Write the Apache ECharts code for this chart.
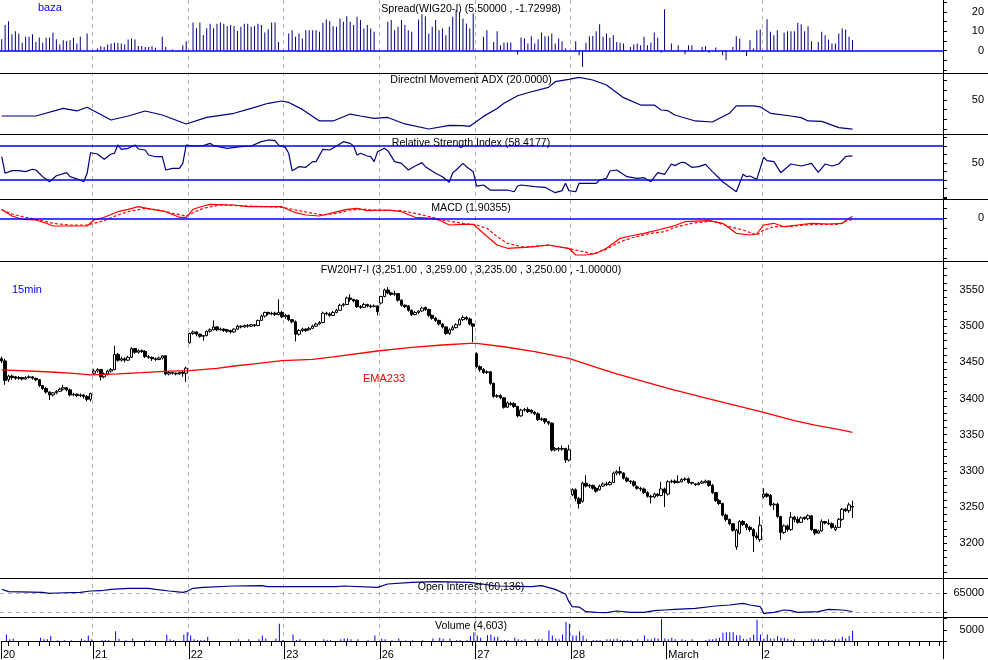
<!doctype html>
<html>
<head>
<meta charset="utf-8">
<title>FW20H7-I 15min</title>
<style>
html, body { margin: 0; padding: 0; background: #fff; }
#main { width: 988px; height: 660px; }
</style>
</head>
<body>
<div id="main"></div>
<script src="https://cdn.jsdelivr.net/npm/echarts@6/dist/echarts.min.js"></script>
<script>
// trading days shown on the x axis and 15 min bars per day
var dayLabels = ['20', '21', '22', '23', '26', '27', '28', 'March', '2'];
var barsPerDay = [27, 28, 28, 28, 28, 28, 28, 28, 27];
var emptySlots = 26;

// FW20H7-I candles: [open, close, low, high]
var ohlc = [
    // 20
    [3455,3452,3449,3458],[3452,3425,3419,3455],[3426,3431,3423,3433],[3431,3429,3426,3433],[3430,3428,3426,3431],[3428,3429,3426,3431],[3429,3427,3425,3430],[3427,3429,3426,3431],[3429,3430,3428,3432],[3430,3428,3426,3431],[3428,3426,3424,3429],[3426,3418,3416,3427],[3418,3414,3412,3419],[3414,3409,3407,3416],[3409,3405,3398,3410],[3405,3408,3403,3409],[3408,3410,3406,3412],[3410,3413,3409,3415],[3413,3415,3411,3419],[3415,3412,3410,3416],[3412,3405,3403,3414],[3405,3406,3403,3408],[3406,3404,3402,3407],[3404,3405,3402,3407],[3405,3403,3400,3406],[3403,3399,3396,3405],[3399,3407,3396,3408],
    // 21
    [3435,3438,3433,3441],[3438,3440,3436,3442],[3440,3430,3425,3441],[3430,3434,3428,3436],[3434,3438,3432,3440],[3438,3440,3436,3442],[3440,3461,3439,3473],[3461,3453,3451,3463],[3453,3455,3451,3458],[3455,3453,3450,3457],[3453,3457,3452,3459],[3457,3469,3456,3471],[3469,3464,3462,3470],[3464,3466,3462,3468],[3466,3465,3463,3468],[3465,3458,3456,3467],[3458,3457,3455,3460],[3457,3455,3452,3458],[3455,3454,3452,3457],[3454,3456,3453,3458],[3456,3459,3454,3460],[3459,3434,3432,3460],[3434,3436,3432,3438],[3436,3435,3433,3437],[3435,3434,3432,3436],[3434,3436,3433,3437],[3436,3435,3430,3438],[3435,3442,3423,3444],
    // 22
    [3477,3490,3476,3491],[3490,3492,3488,3494],[3492,3489,3486,3493],[3489,3486,3484,3490],[3486,3487,3480,3488],[3487,3493,3486,3494],[3493,3495,3491,3497],[3495,3499,3494,3508],[3499,3495,3493,3500],[3495,3496,3494,3498],[3496,3494,3492,3497],[3495,3493,3491,3496],[3494,3492,3490,3495],[3492,3496,3491,3497],[3496,3500,3495,3502],[3500,3499,3497,3501],[3499,3501,3498,3502],[3501,3500,3498,3503],[3500,3502,3499,3503],[3502,3501,3499,3503],[3501,3508,3500,3509],[3508,3514,3507,3516],[3514,3519,3512,3520],[3519,3517,3515,3520],[3517,3518,3515,3520],[3518,3516,3514,3520],[3516,3519,3515,3537],[3519,3513,3511,3521],
    // 23
    [3513,3515,3510,3517],[3515,3509,3507,3516],[3509,3506,3504,3510],[3506,3489,3479,3508],[3489,3494,3487,3496],[3494,3496,3492,3498],[3496,3494,3492,3497],[3495,3497,3494,3499],[3497,3500,3496,3502],[3500,3503,3499,3505],[3503,3505,3502,3507],[3505,3518,3504,3520],[3518,3517,3515,3520],[3517,3515,3513,3519],[3515,3519,3514,3521],[3519,3522,3518,3524],[3522,3529,3521,3531],[3529,3530,3527,3532],[3530,3539,3529,3541],[3539,3537,3534,3544],[3537,3535,3533,3538],[3536,3527,3525,3537],[3527,3526,3524,3529],[3526,3530,3525,3532],[3530,3528,3526,3531],[3528,3527,3525,3530],[3527,3528,3526,3530],[3528,3520,3515,3529],
    // 26
    [3532,3541,3530,3542],[3541,3550,3540,3552],[3550,3546,3544,3554],[3546,3544,3542,3547],[3544,3545,3542,3549],[3545,3536,3534,3546],[3536,3529,3527,3537],[3529,3527,3525,3530],[3528,3522,3520,3529],[3522,3516,3514,3523],[3516,3519,3515,3521],[3519,3521,3517,3522],[3521,3525,3520,3527],[3526,3523,3521,3527],[3523,3515,3513,3524],[3515,3511,3509,3516],[3511,3508,3506,3513],[3508,3503,3501,3509],[3503,3499,3497,3504],[3499,3490,3488,3500],[3490,3495,3488,3497],[3495,3498,3494,3501],[3498,3502,3497,3504],[3502,3509,3501,3511],[3509,3512,3507,3515],[3512,3510,3508,3514],[3510,3503,3501,3512],[3503,3500,3478,3504],
    // 27
    [3462,3444,3442,3464],[3444,3440,3437,3446],[3440,3436,3434,3442],[3436,3437,3434,3439],[3437,3421,3419,3438],[3421,3403,3401,3422],[3403,3404,3401,3406],[3404,3401,3399,3406],[3401,3388,3386,3402],[3388,3394,3387,3396],[3392,3393,3390,3396],[3393,3389,3387,3395],[3389,3376,3374,3390],[3376,3384,3375,3386],[3384,3385,3382,3387],[3385,3382,3380,3388],[3384,3381,3379,3385],[3381,3379,3377,3383],[3379,3371,3369,3381],[3371,3372,3369,3374],[3372,3368,3365,3373],[3368,3366,3363,3369],[3366,3329,3327,3367],[3329,3331,3327,3333],[3331,3330,3327,3333],[3330,3331,3328,3335],[3331,3315,3311,3332],[3315,3329,3313,3336],
    // 28
    [3267,3274,3265,3276],[3274,3262,3258,3276],[3262,3255,3248,3264],[3258,3283,3256,3285],[3283,3279,3277,3294],[3279,3280,3276,3282],[3280,3276,3274,3281],[3276,3272,3270,3278],[3274,3279,3273,3281],[3279,3282,3278,3284],[3282,3281,3279,3285],[3281,3284,3280,3286],[3284,3297,3283,3299],[3297,3299,3294,3301],[3299,3297,3294,3306],[3297,3290,3288,3298],[3290,3286,3284,3292],[3286,3285,3282,3287],[3285,3280,3278,3287],[3278,3276,3274,3280],[3276,3275,3272,3278],[3275,3270,3268,3277],[3270,3265,3263,3272],[3265,3264,3255,3267],[3264,3268,3262,3270],[3268,3266,3264,3269],[3266,3275,3265,3285],[3275,3270,3250,3277],
    // March
    [3268,3285,3266,3287],[3285,3286,3283,3288],[3286,3284,3282,3288],[3284,3285,3283,3294],[3285,3288,3284,3290],[3288,3289,3286,3291],[3289,3284,3282,3291],[3284,3283,3281,3285],[3282,3281,3279,3283],[3281,3283,3280,3285],[3283,3285,3282,3287],[3284,3286,3283,3288],[3286,3280,3278,3287],[3280,3270,3268,3282],[3270,3259,3257,3271],[3259,3255,3253,3261],[3255,3239,3237,3256],[3239,3233,3230,3241],[3233,3227,3225,3234],[3227,3218,3216,3228],[3195,3218,3191,3220],[3214,3230,3212,3232],[3230,3226,3224,3232],[3226,3222,3218,3228],[3222,3219,3216,3224],[3219,3210,3188,3221],[3210,3208,3205,3215],[3205,3225,3202,3237],
    // 2
    [3264,3268,3262,3276],[3268,3265,3263,3270],[3266,3253,3251,3268],[3253,3254,3246,3256],[3254,3237,3235,3256],[3237,3215,3205,3238],[3215,3224,3213,3226],[3224,3219,3216,3226],[3219,3236,3217,3243],[3236,3233,3229,3238],[3233,3229,3227,3237],[3229,3235,3228,3237],[3236,3234,3232,3237],[3234,3238,3232,3240],[3238,3219,3217,3239],[3219,3214,3211,3220],[3214,3217,3213,3219],[3217,3230,3216,3233],[3230,3228,3226,3231],[3228,3227,3225,3233],[3227,3222,3220,3229],[3219,3222,3217,3225],[3222,3233,3221,3235],[3233,3247,3231,3249],[3247,3245,3243,3249],[3245,3253,3242,3256],[3251,3250,3235,3259]
];

// Spread(WIG20-I), one value per bar
var spread = [
    5.9,13.2,15.2,8.5,10,8.8,4,7.1,7.1,8.5,4.5,6.8,4,6.6,6.8,9.2,5.9,3.1,5.4,5,5.4,6.6,3.6,7.1,0,8.8,0,
    0,1,2.2,1.9,3.1,3.6,4,4,3.6,3.1,5.7,6.2,5.7,2.4,2.4,1.9,1.9,2.2,1.4,0,7.1,1.9,0,0.5,0,0,2.8,4.8,
    0,14.5,11.6,14.5,8.1,11.6,13.9,11.6,13.9,14.5,13.9,12.8,13.3,12.8,10.2,12.3,13.9,13.9,12.3,12.8,13.9,13.3,9.4,11.1,14.5,14.5,4.5,0,
    0,8.8,10.6,7.1,8.8,6.2,10.6,10.6,10.6,10.6,9.7,14.4,16.1,15.4,12.6,12.3,16.6,14.9,17.8,14.9,13.2,17.5,15.8,11.4,13.2,11.4,9.7,0,
    0,0,14.9,15.8,10.6,12.3,15.8,13.2,10.6,9.7,0,16.1,18.9,17.8,8.8,12.3,15.8,10.6,11.4,8,12.3,17.5,21,20,16.6,14,11.4,19.2,
    0,0,7.1,10.6,0,4.5,10,2.8,4.2,4.2,4.2,0,-2.1,6.8,6.2,3.6,7.4,3.6,5.9,9.4,7.4,7.4,8.8,3.6,6.2,4.8,1,0,
    0,4.8,-2.4,-8.5,4,7.4,7.6,10,13.7,7.1,8.8,6.6,8,4.5,4,3.6,0,1.9,3.2,3.6,2.8,7.1,2.8,4.2,9.4,6.6,-1,21.5,
    0,3.6,0,2.8,0,-1.9,2.8,2.8,0,0,1.9,2.2,-1.2,0,1.6,0,-2.4,-5,0,1.9,7.4,6.2,-0.7,-2.8,5.4,1,10.6,10.9,
    0,16.3,9.7,8,10.6,0,9.2,10,10,10,14.4,13.7,10,12.6,4.8,-0.4,4.5,9.7,8,5.7,3.6,3.6,8.8,11.4,10.9,7.1,5.5
];

// Volume, one value per bar
var volume = [
    0,2900,725,1160,0,0,0,0,0,0,0,1450,725,725,2175,0,290,0,290,0,290,0,0,1015,290,2465,725,
    0,0,435,435,435,0,4350,1015,0,290,0,1160,0,0,0,290,290,0,0,0,0,2900,725,435,0,0,2900,3915,
    2465,725,435,435,435,1885,0,0,0,0,0,0,0,0,725,0,0,725,0,0,725,2465,1160,0,0,1160,7685,435,
    0,0,2900,435,725,0,0,0,0,0,0,725,290,435,0,0,725,1160,1160,725,0,725,0,0,435,0,2465,0,
    1160,725,0,290,0,1160,0,290,0,290,0,0,290,0,0,1160,0,1450,1015,0,1160,0,435,435,0,435,2175,3915,
    2465,1450,0,2610,2900,1885,1885,290,435,435,0,1450,725,435,725,0,0,725,725,725,0,4640,2465,1160,725,2900,8410,7685,
    2465,2465,4350,2465,725,0,435,435,435,0,725,725,725,1015,435,435,435,435,0,725,0,2465,725,725,1450,1160,9715,1160,
    725,1450,725,0,725,435,0,725,0,0,0,435,725,725,1160,1450,3625,3915,3915,3915,2610,2610,1015,725,1450,2900,9425,2900,
    1160,2900,1160,1160,2175,1450,1450,1015,435,725,0,0,0,0,725,725,725,435,725,435,435,725,725,1885,1160,2175,4603
];

// smooth indicator lines: [bar, value]
var ema233 = [[0,3439.5],[13,3437],[20,3435],[26,3432.6],[34,3434],[41,3435.8],[49,3438],[55,3438.5],[63,3441.8],[68,3445],[74,3447.8],[82,3452.4],[91,3454.2],[97,3457.5],[110,3465.7],[120,3470.7],[129,3474],[137,3476.3],[139,3476.3],[147,3471.6],[156,3464.7],[166,3455.5],[174,3443],[180,3434],[195,3414],[205,3402],[223,3381],[232,3369.4],[238,3363.4],[246,3356.5],[249,3353.3]];

var adx = [[0,33.5],[10,33.5],[18,41.4],[22,38.7],[25,42.5],[32,29.4],[37,33.5],[42,38.7],[47,34.5],[54,25.3],[60,32.1],[68,36.3],[73,41.4],[78,46.6],[82,49],[84,47.5],[88,40.3],[93,28.4],[97,28.4],[102,35.5],[105,33.5],[109,31.1],[113,32],[118,25.3],[125,20.1],[131,23.9],[135,23.5],[137,22.9],[141,33.1],[145,41.2],[147,46.6],[151,54.4],[154,57.5],[160,63],[162,68.9],[166,71.3],[169,73.4],[173,70.6],[177,65.5],[182,52.4],[187,44.8],[191,44.8],[193,39.7],[195,39],[197,34.5],[203,28.4],[208,27.3],[213,36.3],[215,43.9],[220,44],[222,43],[225,36.3],[231,33.5],[234,31.8],[236,28.4],[240,28],[245,21.5],[249,20]];

var rsi = [[0,57.4],[1,37.9],[3,41],[5,41],[7,39.8],[9,42.6],[10,41.8],[12,33.9],[14,28],[16,35],[19,38.6],[20,33.9],[23,30],[24,28],[25,37.9],[26,62.1],[28,60.6],[30,54.4],[32,60.6],[33,61.4],[34,71.2],[35,66.1],[37,67.3],[39,71.2],[40,66.5],[42,65.3],[43,59.4],[45,57.4],[47,57.4],[48,41.8],[50,43.7],[52,43.7],[53,49.6],[54,71.2],[56,70],[59,70.4],[61,73.1],[62,70.4],[66,67.3],[70,69.2],[73,70],[76,75.1],[78,77.1],[80,76.3],[81,71.2],[83,68.4],[84,61.4],[85,41],[87,45.7],[89,44.9],[91,51.6],[92,51.6],[94,66.1],[96,65.3],[98,70],[100,75.1],[102,73.1],[103,70],[104,59.4],[105,61.4],[107,58.2],[108,57.4],[109,51.6],[110,63.3],[112,67.3],[113,64.5],[115,51.6],[117,49.6],[119,41.8],[121,46.5],[123,50.4],[124,45.7],[127,37.9],[129,33.9],[131,27.3],[132,38.6],[133,41.8],[135,49.6],[136,45.7],[138,39.8],[139,22.9],[141,24.1],[143,18.2],[145,18.2],[148,18.2],[150,16.2],[151,22.9],[152,24.1],[156,22.1],[159,21.4],[162,15.1],[164,17.5],[165,26.1],[166,17.5],[168,16.2],[169,26.1],[174,26.1],[175,30],[177,32],[178,40.6],[180,41.8],[183,33.9],[186,32],[188,32.7],[190,28],[192,38.6],[194,36.7],[196,48.8],[197,46.9],[199,50.8],[200,50.4],[202,44.9],[204,45.7],[206,48.4],[208,39.8],[210,32],[211,28],[213,22.1],[215,16.2],[217,36.7],[218,33.9],[219,34.7],[221,30.8],[223,56.7],[224,52.8],[226,51.6],[228,38.6],[231,48.8],[234,46.5],[237,49.6],[239,39],[241,48.8],[243,46.5],[245,48.8],[247,57.4],[248,58.2],[249,58.4]];

var macd = [[0,9],[3,2.3],[6,-1],[10,-1.7],[13,-5],[15,-7.7],[20,-7.7],[25,-7.7],[27,-1.7],[30,1],[34,6.6],[37,9],[40,11.6],[44,9],[48,6.6],[52,1],[54,1],[56,9],[59,12.3],[61,14],[68,13.3],[72,11.6],[78,11.6],[82,11.6],[86,5.6],[89,3.3],[93,2.3],[97,5.6],[101,9],[104,10],[107,7.6],[113,8.3],[117,6.6],[121,1],[126,0],[128,-1.7],[131,-6.7],[135,-6],[138,-6],[141,-15],[145,-26.7],[148,-30],[153,-29],[156,-28.4],[160,-26.7],[164,-29],[166,-30],[168,-36.7],[171,-36.7],[174,-35],[177,-30],[181,-20],[184,-17.7],[188,-15],[192,-11.7],[196,-8.4],[200,-3.4],[207,-2.4],[211,-5],[215,-15],[219,-16.7],[221,-15.7],[223,-6.7],[226,-5],[229,-8.4],[233,-6.7],[237,-5],[242,-5.7],[246,-5],[248,0],[249,1.9]];

var macdSignal = [[0,8.3],[3,4.3],[6,1.6],[10,-1],[13,-3.4],[15,-5],[20,-6.7],[25,-6.7],[27,-5],[30,-2.3],[34,3.3],[37,6.6],[42,10],[46,8.3],[50,5],[54,2.3],[56,5.6],[59,10],[64,13.3],[72,12.3],[82,11],[86,8.3],[90,5.6],[94,3.3],[98,5],[102,8.3],[106,9],[109,8.3],[117,7.6],[121,5],[126,1],[129,-1.7],[132,-3.4],[135,-5],[139,-6.7],[142,-10],[145,-18.3],[148,-25],[153,-29],[160,-26.7],[164,-29],[168,-31.7],[173,-35.7],[177,-31],[181,-23.4],[185,-19],[190,-15],[194,-13.4],[197,-9],[202,-5],[208,-2.7],[213,-8.4],[217,-11.7],[221,-16.7],[223,-11.7],[226,-8.4],[230,-8.4],[235,-6.7],[239,-6],[245,-6],[248,-1.7],[249,-1.7]];

var openInterest = [[0,65974],[2,65350],[12,65175],[14,64912],[16,65000],[23,65175],[26,65526],[29,65600],[32,65965],[37,66228],[43,66228],[45,65965],[49,65526],[53,65175],[54,65350],[56,66228],[59,66490],[68,66842],[76,66930],[78,66666],[83,66666],[98,66666],[100,66842],[110,66490],[113,67369],[120,67807],[127,67982],[137,67807],[145,66842],[155,66666],[158,66930],[162,65965],[165,64737],[166,62720],[167,61404],[169,61300],[171,60088],[174,59912],[177,59825],[180,60263],[184,59912],[188,59912],[191,60351],[194,60526],[197,60702],[203,60965],[209,61579],[213,61842],[217,62290],[219,61842],[222,61404],[223,59649],[226,59912],[229,60526],[231,60351],[233,59912],[239,60088],[242,60702],[246,60526],[249,60136]];

var panelTitles = [
    'Spread(WIG20-I) (5.50000 , -1.72998)',
    'Directnl Movement ADX (20.0000)',
    'Relative Strength Index (58.4177)',
    'MACD (1.90355)',
    'FW20H7-I (3,251.00 , 3,259.00 , 3,235.00 , 3,250.00 , -1.00000)',
    'Open Interest (60,136)',
    'Volume (4,603)'
];

// ---- category axis: one slot per 15 min bar ----
function pad(n) { return n < 10 ? '0' + n : '' + n; }
var categories = [];
var slotOfDay = [];
var dayStart = {};
dayLabels.forEach(function (d, di) {
    dayStart[categories.length] = d;
    var skip = di === 0 ? 28 - barsPerDay[0] : 0;
    for (var k = 0; k < barsPerDay[di]; k++) {
        var m = 9 * 60 + (k + skip) * 15;
        categories.push(d + ' ' + pad(Math.floor(m / 60)) + ':' + pad(m % 60));
        slotOfDay.push(k + skip);
    }
});
var lastSlot = slotOfDay[slotOfDay.length - 1];
for (var e = 0; e < emptySlots; e++) {
    lastSlot = (lastSlot + 1) % 28;
    categories.push('next ' + e);
    slotOfDay.push(lastSlot);
}

var font = 'Liberation Sans, Arial, sans-serif';
var navy = '#000080';
var blue = '#0000ff';

function isDayStart(i) { return dayStart[i] !== undefined; }
function isDayGrid(i) { return isDayStart(i) && i > 0 && dayStart[i] !== 'March'; }
function isMinorTick(i) { return slotOfDay[i] % 3 === 0; }

var grids = [
    { top: 0, height: 641.5 },      // background day lines
    { top: 2.4, height: 67.4 },     // spread
    { top: 80.6, height: 48.5 },    // ADX
    { top: 137.5, height: 59.5 },   // RSI
    { top: 198.3, height: 60 },     // MACD
    { top: 261.06, height: 311.15 },// price
    { top: 593, height: 19 },       // open interest
    { top: 618.5, height: 23 }      // volume
].map(function (g) { return { left: 0, width: 943, top: g.top, height: g.height, show: false }; });

function xAx(gi, extra) {
    var a = {
        type: 'category', gridIndex: gi, data: categories, boundaryGap: true, position: 'bottom',
        axisLine: { show: false }, axisTick: { show: false }, axisLabel: { show: false }, splitLine: { show: false }
    };
    for (var k in extra) a[k] = extra[k];
    return a;
}
function yAx(gi, min, max, interval, shown, extra) {
    var a = {
        type: 'value', gridIndex: gi, position: 'right', min: min, max: max, interval: interval,
        axisLine: { show: false },
        axisTick: { show: true, length: 4, lineStyle: { color: '#000' } },
        axisLabel: {
            show: true, align: 'right', margin: 41, color: '#000', fontSize: 11, fontFamily: font,
            formatter: function (v) { return shown.indexOf(v) >= 0 ? String(v) : ''; }
        },
        splitLine: { show: false }
    };
    for (var k in extra) a[k] = extra[k];
    return a;
}

var xAxes = [
    xAx(0, { splitLine: { show: true, interval: function (i) { return isDayGrid(i); }, lineStyle: { color: '#b4b4b4', type: [4, 4], width: 1 } } }),
    xAx(1), xAx(2), xAx(3), xAx(4), xAx(5), xAx(6),
    xAx(7, {
        axisLine: { show: true, lineStyle: { color: '#000', width: 1 } },
        axisTick: { show: true, length: 5, interval: function (i) { return isMinorTick(i); }, lineStyle: { color: '#000' } }
    }),
    xAx(7, {
        axisTick: { show: true, length: 18, interval: function (i) { return isDayStart(i); }, lineStyle: { color: '#000' } },
        axisLabel: {
            show: true, interval: function (i) { return isDayStart(i); }, align: 'left', margin: 8,
            color: '#000', fontSize: 11, fontFamily: font,
            formatter: function (v) { return v.split(' ')[0]; }
        }
    })
];

var price50 = [3200, 3250, 3300, 3350, 3400, 3450, 3500, 3550];
var yAxes = [
    { type: 'value', gridIndex: 0, position: 'right', min: 0, max: 1,
      axisLine: { show: true, lineStyle: { color: '#000', width: 1 } },
      axisTick: { show: false }, axisLabel: { show: false }, splitLine: { show: false } },
    yAx(1, -10, 25, 5, [0, 10, 20]),
    yAx(2, 20, 70, 10, [50]),
    yAx(3, 10, 80, 10, [50]),
    yAx(4, -40, 20, 10, [0]),
    yAx(5, 3160, 3590, 10, price50),
    yAx(6, 60000, 65000, 5000, [65000], { splitLine: { show: true, lineStyle: { color: '#b4b4b4', type: [4, 4] } } }),
    yAx(7, 0, 10000, 5000, [5000])
];

function hLine(values) {
    return {
        silent: true, symbol: 'none', animation: false,
        label: { show: false },
        lineStyle: { color: blue, type: 'solid', width: 1.5 },
        data: values.map(function (v) { return { yAxis: v }; })
    };
}
function lineSeries(gi, data, color, width, extra) {
    var s = {
        type: 'line', xAxisIndex: gi, yAxisIndex: gi, data: data,
        symbol: 'none', showSymbol: false, clip: false, animation: false,
        lineStyle: { color: color, width: width }
    };
    for (var k in extra) s[k] = extra[k];
    return s;
}

var separators = [73, 134, 199, 261, 578, 617];
var titleY = [9, 80, 143, 208, 270, 587, 626];

var graphics = separators.map(function (y) {
    return { type: 'line', z: 50, silent: true, shape: { x1: 0, y1: y + 0.5, x2: 988, y2: y + 0.5 }, style: { stroke: '#000', lineWidth: 1 } };
});
function txt(x, y, text, color, align, size) {
    return {
        type: 'text', z: 60, silent: true, x: x, y: y,
        style: { text: text, fill: color, font: (size || 11) + 'px ' + font, align: align, verticalAlign: 'middle', textAlign: align, textVerticalAlign: 'middle' }
    };
}
panelTitles.forEach(function (t, i) { graphics.push(txt(471, titleY[i], t, '#000', 'center', 10.6)); });
graphics.push(txt(38, 8, 'baza', blue, 'left'));
graphics.push(txt(12, 290, '15min', blue, 'left'));
graphics.push(txt(363, 379, 'EMA233', '#ff0000', 'left'));

var chart = echarts.init(document.getElementById('main'));
chart.setOption({
    animation: false,
    backgroundColor: '#ffffff',
    grid: grids,
    xAxis: xAxes,
    yAxis: yAxes,
    graphic: graphics,
    series: [
        { type: 'line', xAxisIndex: 0, yAxisIndex: 0, data: [], silent: true },
        {
            type: 'bar', xAxisIndex: 1, yAxisIndex: 1, data: spread, barWidth: 1,
            itemStyle: { color: navy }, animation: false, markLine: hLine([0])
        },
        lineSeries(2, adx, navy, 1.2),
        lineSeries(3, rsi, navy, 1.2, { markLine: hLine([70, 30]) }),
        lineSeries(4, macd, '#ff0000', 1.2, { markLine: hLine([0]), z: 3 }),
        lineSeries(4, macdSignal, '#ff0000', 1.2, { lineStyle: { color: '#ff0000', width: 1.2, type: [3, 2] } }),
        {
            type: 'candlestick', xAxisIndex: 5, yAxisIndex: 5, data: ohlc, barWidth: 3,
            animation: false,
            itemStyle: { color: '#ffffff', color0: '#000000', borderColor: '#000000', borderColor0: '#000000', borderWidth: 1 }
        },
        lineSeries(5, ema233, '#ff0000', 1.3),
        lineSeries(6, openInterest, navy, 1.2),
        {
            type: 'bar', xAxisIndex: 7, yAxisIndex: 7, data: volume, barWidth: 1,
            itemStyle: { color: blue }, animation: false
        }
    ]
});
window.onresize = chart.resize;
</script>
</body>
</html>
